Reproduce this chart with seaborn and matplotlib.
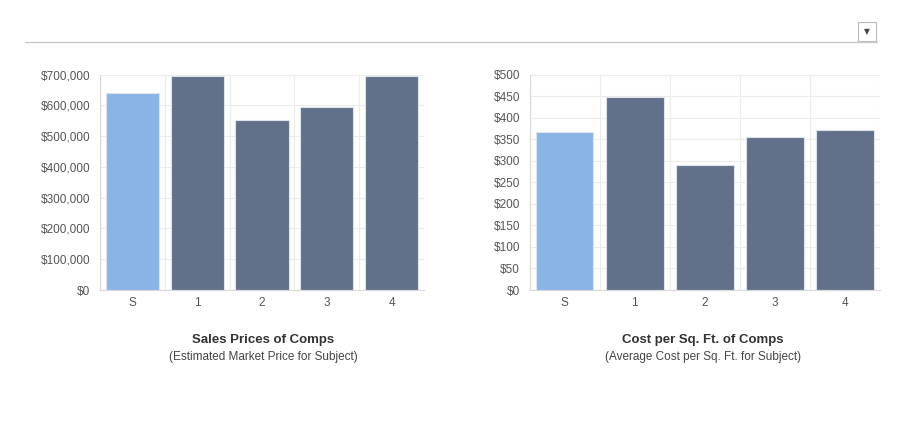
import matplotlib
matplotlib.use('Agg')
import matplotlib.pyplot as plt
import matplotlib.patches as patches
import matplotlib.ticker as mticker
import seaborn as sns
import pandas as pd

# Data
categories = ['S', '1', '2', '3', '4']
sales_prices = [641000, 697000, 552000, 595000, 697000]
cost_per_sqft = [366, 448, 290, 355, 371]
bar_colors = ['#8AB4E6', '#627189', '#627189', '#627189', '#627189']

sns.set_style('white')
plt.rcParams['font.family'] = ['Liberation Sans', 'DejaVu Sans']

fig = plt.figure(figsize=(9.01, 4.23), dpi=100)
ax1 = fig.add_axes([0.111, 0.3144, 0.3596, 0.509])
ax2 = fig.add_axes([0.588, 0.3144, 0.3885, 0.509])


def draw_panel(ax, values, ymax, step, fmt):
    df = pd.DataFrame({'cat': categories, 'val': values})
    sns.barplot(data=df, x='cat', y='val', hue='cat', order=categories,
                palette=dict(zip(categories, bar_colors)), legend=False,
                saturation=1, width=0.82, edgecolor='#dde3ea', linewidth=0.8,
                ax=ax)
    ax.set_xlim(-0.5, 4.5)
    ax.set_ylim(0, ymax)
    ax.yaxis.set_major_locator(mticker.MultipleLocator(step))
    ax.yaxis.set_major_formatter(mticker.FuncFormatter(fmt))
    ax.set_xticks([i - 0.5 for i in range(6)], minor=True)
    ax.grid(True, axis='y', which='major', color='#ececec', linewidth=0.8)
    ax.grid(True, axis='x', which='minor', color='#ececec', linewidth=0.8)
    ax.set_axisbelow(True)
    ax.set_xlabel('')
    ax.set_ylabel('')
    for s in ['top', 'right']:
        ax.spines[s].set_visible(False)
    for s in ['left', 'bottom']:
        ax.spines[s].set_color('#d8d8d8')
        ax.spines[s].set_linewidth(0.8)
    ax.tick_params(axis='x', which='major', length=0, labelsize=8.5,
                   labelcolor='#555555', pad=5)
    ax.tick_params(axis='x', which='minor', length=5, color='#d8d8d8', width=0.8)
    ax.tick_params(axis='y', which='major', length=5, color='#e4e4e4', width=0.8,
                   labelsize=8.5, labelcolor='#555555', pad=2)


draw_panel(ax1, sales_prices, 700000, 100000, lambda v, p: f'${v:,.0f}')
draw_panel(ax2, cost_per_sqft, 500, 50, lambda v, p: f'${v:,.0f}')

# Chart captions
fig.text(0.292, 0.196, 'Sales Prices of Comps', ha='center', va='center',
         fontsize=9.5, fontweight='bold', color='#333333')
fig.text(0.292, 0.155, '(Estimated Market Price for Subject)', ha='center',
         va='center', fontsize=8.5, color='#444444')
fig.text(0.780, 0.196, 'Cost per Sq. Ft. of Comps', ha='center', va='center',
         fontsize=9.5, fontweight='bold', color='#333333')
fig.text(0.780, 0.155, '(Average Cost per Sq. Ft. for Subject)', ha='center',
         va='center', fontsize=8.5, color='#444444')

# Header rule and dropdown box
fig.add_artist(plt.Line2D([25 / 901, 877 / 901], [0.9007, 0.9007],
                          color='#c8c8c8', linewidth=1))
fig.add_artist(patches.Rectangle((858 / 901, 1 - 41 / 423), 18 / 901, 19 / 423,
                                 facecolor='white', edgecolor='#bbbbbb',
                                 linewidth=0.8))
fig.text(867 / 901, 1 - 32 / 423, '▼', ha='center', va='center', fontsize=5.5,
         color='#444444', family=['DejaVu Sans'])

fig.savefig('out.png', dpi=100)
